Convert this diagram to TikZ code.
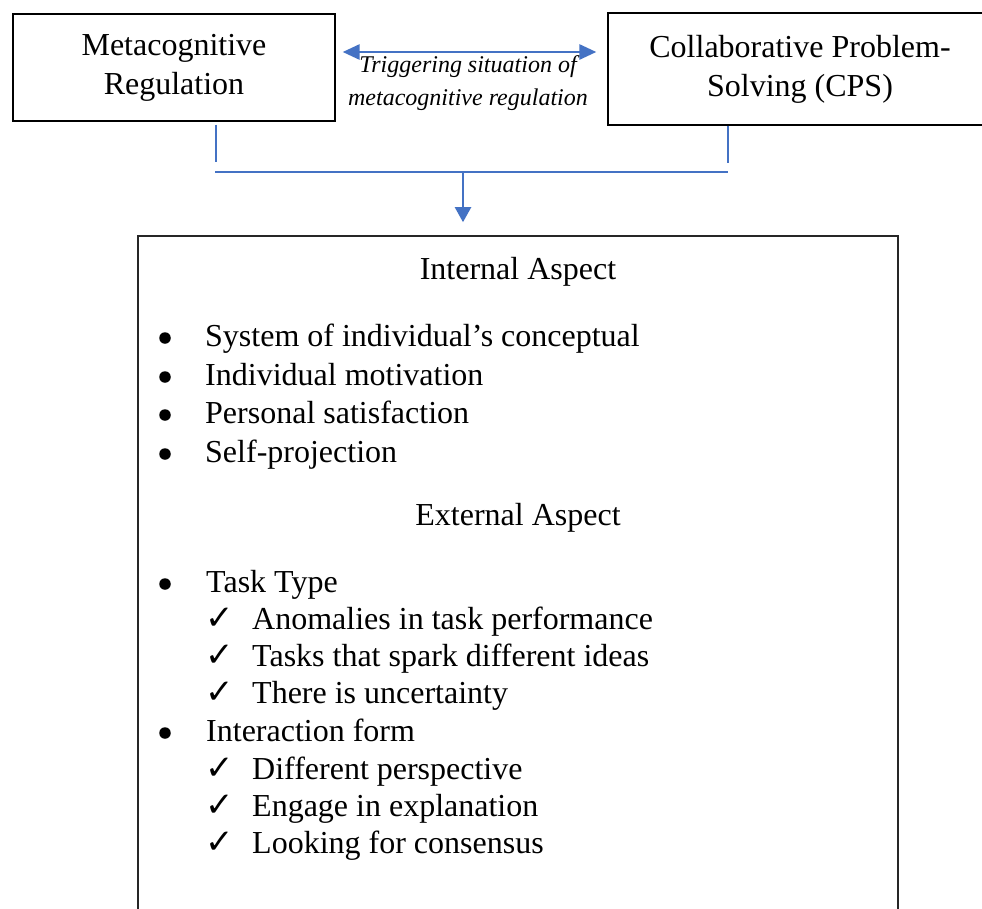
\documentclass[tikz,border=0pt]{standalone}
\usepackage{fontspec}
\setmainfont{Liberation Serif}
\newfontfamily\symfont{DejaVu Sans}
\usetikzlibrary{arrows.meta}
\definecolor{linkblue}{HTML}{4472C4}
\begin{document}
\begin{tikzpicture}[x=1pt,y=-1pt,
  box/.style={draw=black,line width=1.3pt,inner sep=0pt,align=center,
    font=\fontsize{32}{39}\selectfont},
  frame/.style={draw=black!85,line width=1.6pt,inner sep=0pt},
  link/.style={draw=linkblue,line width=1.1pt},
  twoway/.style={draw=linkblue,line width=2.8pt,
    {Triangle[length=17pt,width=15pt]}-{Triangle[length=17pt,width=15pt]}},
  downarrow/.style={draw=linkblue,line width=2.2pt,
    -{Triangle[length=15pt,width=16pt]}},
  label/.style={anchor=base,inner sep=0pt,font=\fontsize{24}{33}\selectfont\itshape},
  heading/.style={anchor=base,inner sep=0pt,font=\fontsize{32}{39}\selectfont},
  entry/.style={anchor=base west,inner sep=0pt,font=\fontsize{32}{39}\selectfont},
  dot/.style={circle,fill=black,inner sep=0pt,minimum size=11.5pt},
  tick/.style={anchor=base west,inner sep=0pt,font=\symfont\fontsize{34}{34}\selectfont}]

\useasboundingbox (0,0) rectangle (982,908);
\clip (0,0) rectangle (982,908);
\fill[white] (0,0) rectangle (982,908);

% the two top boxes
\node[box,minimum width=322pt,minimum height=107pt] (mr) at (174,67.5)
  {Metacognitive\\Regulation};
\node[box,minimum width=384pt,minimum height=112pt] (cps) at (800,69)
  {Collaborative Problem-\\Solving (CPS)};

% two-way arrow between them and its label
\draw[twoway] ([shift={(7,-15.5)}]mr.east) -- ([shift={(-11,-17)}]cps.west);
\node[label] (trigA) at (468,72) {Triggering situation of};
\node[label] (trigB) at (468,105) {metacognitive regulation};

% joining lines into the lower box
\coordinate (mlTop) at ([shift={(42,3)}]mr.south);
\coordinate (mlBot) at ([shift={(42,40)}]mr.south);
\coordinate (crTop) at ([shift={(-72,0)}]cps.south);
\coordinate (crBot) at ([shift={(-72,37)}]cps.south);
\coordinate (jl) at (215,172);
\coordinate (jr) at (728,172);
\coordinate (jm) at (463,172);
\draw[link] (mlTop) -- (mlBot);
\draw[link] (crTop) -- (crBot);
\draw[link] (jl) -- (jr);

% lower box with its aspects
\node[frame,minimum width=760pt,minimum height=704pt] (asp) at (518,588) {};
\draw[downarrow,shorten >=13pt] (jm) -- (jm |- asp.north);

\node[heading] (intl) at (518,279) {Internal Aspect};
\node[dot] (d1) at (165,338) {};
\node[entry] (i1) at (205,346) {System of individual’s conceptual};
\node[dot] (d2) at (165,377) {};
\node[entry] (i2) at (205,385) {Individual motivation};
\node[dot] (d3) at (165,415) {};
\node[entry] (i3) at (205,423) {Personal satisfaction};
\node[dot] (d4) at (165,454) {};
\node[entry] (i4) at (205,462) {Self-projection};

\node[heading] (extl) at (518,525) {External Aspect};
\node[dot] (d5) at (165,584) {};
\node[entry] (e1) at (206,592) {Task Type};
\node[tick] (t1) at (205,629) {✓};
\node[entry] (e1a) at (252,629) {Anomalies in task performance};
\node[tick] (t2) at (205,666) {✓};
\node[entry] (e1b) at (252,666) {Tasks that spark different ideas};
\node[tick] (t3) at (205,703) {✓};
\node[entry] (e1c) at (252,703) {There is uncertainty};
\node[dot] (d6) at (165,733) {};
\node[entry] (e2) at (206,741) {Interaction form};
\node[tick] (t4) at (205,779) {✓};
\node[entry] (e2a) at (252,779) {Different perspective};
\node[tick] (t5) at (205,816) {✓};
\node[entry] (e2b) at (252,816) {Engage in explanation};
\node[tick] (t6) at (205,853) {✓};
\node[entry] (e2c) at (252,853) {Looking for consensus};
\end{tikzpicture}
\end{document}
